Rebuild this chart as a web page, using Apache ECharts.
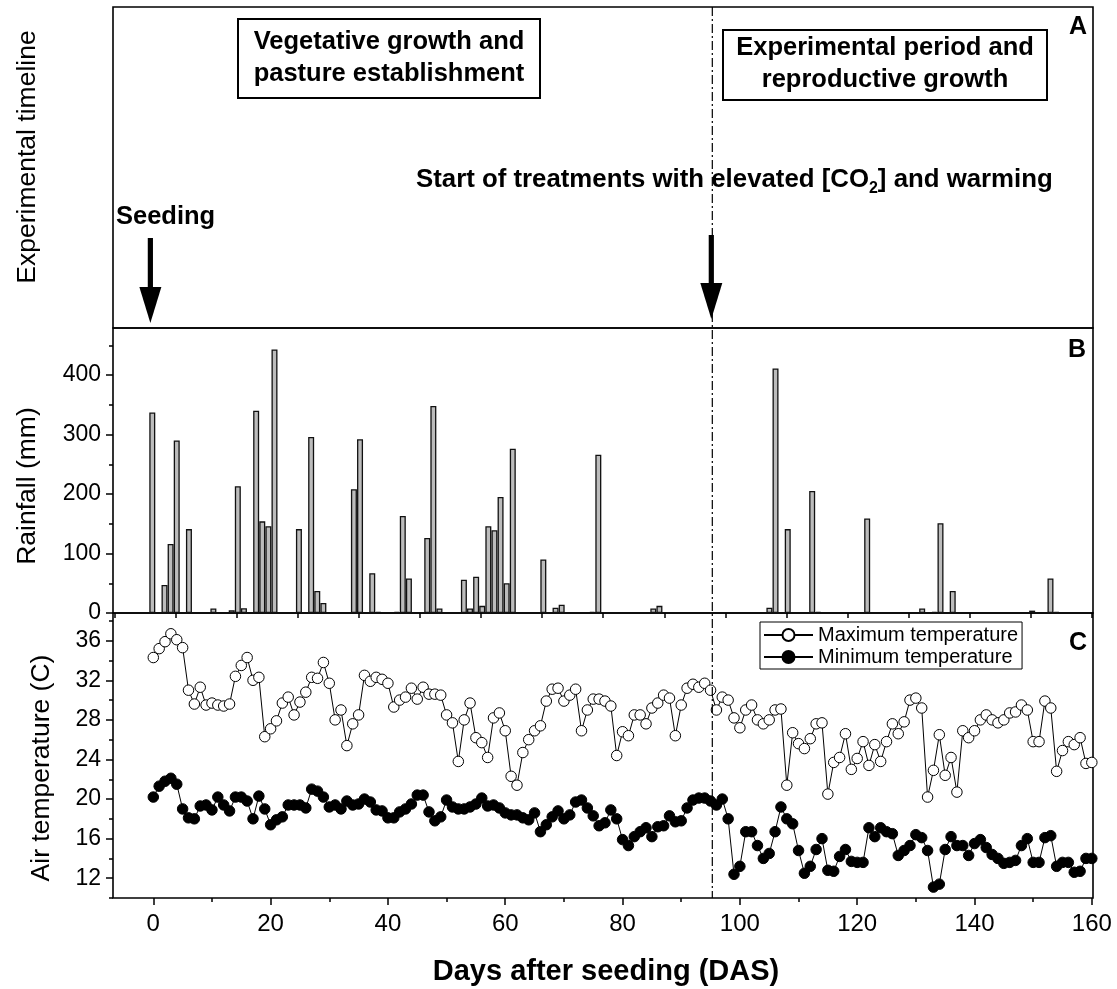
<!DOCTYPE html>
<html><head><meta charset="utf-8">
<script src="https://cdn.jsdelivr.net/npm/echarts@6/dist/echarts.min.js"></script>
<style>html,body{margin:0;padding:0;background:#fff}#c{width:1117px;height:989px}</style>
</head><body><div id="c"></div>
<script>
// ---------------- DATA ----------------
const days = [0,1,2,3,4,5,6,7,8,9,10,11,12,13,14,15,16,17,18,19,20,21,22,23,24,25,26,27,28,29,30,31,32,33,34,35,36,37,38,39,40,41,42,43,44,45,46,47,48,49,50,51,52,53,54,55,56,57,58,59,60,61,62,63,64,65,66,67,68,69,70,71,72,73,74,75,76,77,78,79,80,81,82,83,84,85,86,87,88,89,90,91,92,93,94,95,96,97,98,99,100,101,102,103,104,105,106,107,108,109,110,111,112,113,114,115,116,117,118,119,120,121,122,123,124,125,126,127,128,129,130,131,132,133,134,135,136,137,138,139,140,141,142,143,144,145,146,147,148,149,150,151,152,153,154,155,156,157,158,159,160];
const maxTemp = [34.3,35.2,35.9,36.7,36.1,35.3,31.0,29.6,31.3,29.5, 29.7,29.5,29.4,29.6,32.4,33.5,34.3,32.0,32.3,26.3, 27.1,27.9,29.7,30.3,28.5,29.8,30.8,32.3,32.2,33.8, 31.7,28.0,29.0,25.4,27.6,28.5,32.5,31.9,32.3,32.1, 31.7,29.3,30.0,30.3,31.2,30.1,31.3,30.6,30.6,30.5, 28.5,27.7,23.8,28.0,29.7,26.2,25.7,24.2,28.2,28.7, 26.9,22.3,21.4,24.7,26.0,26.9,27.4,29.9,31.1,31.2, 29.9,30.5,31.1,26.9,29.0,30.1,30.1,29.9,29.4,24.4, 26.8,26.4,28.5,28.5,27.6,29.2,29.7,30.5,30.2,26.4, 29.5,31.2,31.6,31.3,31.7,31.0,29.0,30.3,30.0,28.2, 27.2,29.0,29.5,28.0,27.6,28.0,29.0,29.1,21.4,26.7, 25.6,25.1,26.1,27.6,27.7,20.5,23.7,24.2,26.6,23.0, 24.1,25.8,23.4,25.5,23.8,25.8,27.6,26.6,27.8,30.0, 30.2,29.2,20.2,22.9,26.5,22.4,24.2,20.7,26.9,26.2, 26.9,28.0,28.5,28.0,27.7,28.0,28.7,28.8,29.5,29.0, 25.8,25.8,29.9,29.2,22.8,24.9,25.8,25.5,26.2,23.6, 23.7];
const minTemp = [20.2,21.3,21.8,22.1,21.5,19.0,18.1,18.0,19.3,19.4, 18.9,20.2,19.4,18.8,20.2,20.2,19.8,18.0,20.3,19.0, 17.4,17.9,18.2,19.4,19.4,19.4,19.1,21.0,20.8,20.2, 19.2,19.4,19.0,19.8,19.4,19.5,20.0,19.7,18.9,18.8, 18.1,18.1,18.7,19.0,19.5,20.4,20.4,18.7,17.8,18.2, 19.9,19.2,19.0,19.0,19.2,19.5,20.1,19.3,19.4,19.1, 18.6,18.4,18.4,18.1,17.9,18.6,16.7,17.4,18.2,18.8, 18.0,18.4,19.7,19.9,19.1,18.3,17.3,17.6,18.9,18.0, 15.9,15.3,16.2,16.7,17.1,16.2,17.2,17.3,18.3,17.7, 17.8,19.1,19.9,20.1,20.1,19.8,19.4,20.0,18.0,12.4, 13.2,16.7,16.7,15.3,14.0,14.5,16.7,19.2,18.0,17.5, 14.8,12.5,13.2,14.9,16.0,12.8,12.7,14.2,14.9,13.7, 13.6,13.6,17.1,16.2,17.1,16.7,16.5,14.3,14.8,15.3, 16.4,16.1,14.8,11.1,11.4,14.9,16.2,15.3,15.3,14.3, 15.5,15.9,15.1,14.4,14.0,13.5,13.6,13.8,15.3,16.0, 13.6,13.6,16.1,16.3,13.2,13.6,13.6,12.6,12.7,14.0, 14.0];
const rainDays = [0,2,3,4,6,10,13,14,15,17,18,19,20,24,26,27,28,33,34,36,37,40,41,42,45,46,47,51,52,53,54,55,56,57,58,59,64,66,67,72,73,82,83,101,102,104,108,109,117,126,128,129,131,144,147,148];
const rainMm = [337,47,116,290,141,7.5,4.7,213,8,340,154,146,443,141,296,37,17,208,292,67,2,2,163,58,126,348,7.5,56,7.5,61,12,146,139,195,50,276,90,9,14,2,266,7.5,12,9,411,141,205,2,159,7.5,2,151,37,4,58,2];
const xTickLabels = [0,20,40,60,80,100,120,140,160];
const xMinorTicks = [10,30,50,70,90,110,130,150];
const rainTickLabels = [0,100,200,300,400];
const rainMinorTicks = [50,150,250,350,450];
const tempTickLabels = [12,16,20,24,28,32,36];
const tempMinorTicks = [10,14,18,22,26,30,34,38];
const rainPanelTicks = [-6.2,3.8,13.8,23.8,33.8,43.8,53.8,63.8,73.8,83.8,93.8,103.8,113.8,123.8,133.8,143.8,153.8];
const SEEDING_DAS = -0.5;
const TREATMENT_DAS = 95.3;
const seriesNames = ['Maximum temperature','Minimum temperature'];

// ---------------- CHART ----------------
const FONT = '"Liberation Sans", Arial, Helvetica, sans-serif';
const chart = echarts.init(document.getElementById('c'), null, {renderer:'canvas'});
const C_MIN = -6.87, C_MAX = 160.2;
const B_MIN = -6.43, B_MAX = 153.96;
const tickLine = {color:'#000', width:1.5};
const gridBase = {left:113, right:24, show:true, borderColor:'#000', borderWidth:1.6, backgroundColor:'rgba(0,0,0,0)', containLabel:false, outerBoundsMode:'none'};
const noSplit = {show:false};
const noLine = {show:false, onZero:false};

const option = {
  animation:false,
  backgroundColor:'#fff',
  textStyle:{fontFamily:FONT},
  grid:[
    Object.assign({top:7, height:321}, gridBase),
    Object.assign({top:328, height:285}, gridBase),
    Object.assign({top:613, height:285}, gridBase)
  ],
  legend:{
    data:seriesNames, orient:'vertical', left:760, top:622,
    borderColor:'#000', borderWidth:1, padding:[3,4,2,3],
    itemWidth:49, itemHeight:15, itemGap:2,
    textStyle:{fontSize:20, color:'#000', fontFamily:FONT},
    selectedMode:false
  },
  xAxis:[
    {gridIndex:0, type:'value', min:C_MIN, max:C_MAX, show:false, axisLine:noLine},
    {gridIndex:1, type:'value', position:'bottom', min:B_MIN, max:B_MAX, axisLine:noLine, splitLine:noSplit,
      axisLabel:{show:false}, axisTick:{show:true, length:5, customValues:rainPanelTicks, lineStyle:tickLine}},
    {gridIndex:2, type:'value', position:'bottom', min:C_MIN, max:C_MAX, axisLine:noLine, splitLine:noSplit,
      axisLabel:{customValues:xTickLabels, fontSize:24, color:'#000', margin:14, fontFamily:FONT},
      axisTick:{show:true, customValues:xTickLabels, length:7, lineStyle:tickLine}},
    {gridIndex:2, type:'value', position:'bottom', min:C_MIN, max:C_MAX, axisLine:noLine, splitLine:noSplit,
      axisLabel:{show:false}, axisTick:{show:true, customValues:xMinorTicks, length:4, lineStyle:tickLine}}
  ],
  yAxis:[
    {gridIndex:0, type:'value', min:0, max:1, show:false, axisLine:noLine},
    {gridIndex:1, type:'value', position:'left', min:0, max:479, axisLine:noLine, splitLine:noSplit,
      axisLabel:{customValues:rainTickLabels, fontSize:23, color:'#000', margin:12, fontFamily:FONT},
      axisTick:{show:true, customValues:rainTickLabels, length:7, lineStyle:tickLine}},
    {gridIndex:1, type:'value', position:'left', min:0, max:479, axisLine:noLine, splitLine:noSplit,
      axisLabel:{show:false}, axisTick:{show:true, customValues:rainMinorTicks, length:4, lineStyle:tickLine}},
    {gridIndex:2, type:'value', position:'left', min:10, max:38.8, axisLine:noLine, splitLine:noSplit,
      axisLabel:{customValues:tempTickLabels, fontSize:23, color:'#000', margin:12, fontFamily:FONT},
      axisTick:{show:true, customValues:tempTickLabels, length:7, lineStyle:tickLine}},
    {gridIndex:2, type:'value', position:'left', min:10, max:38.8, axisLine:noLine, splitLine:noSplit,
      axisLabel:{show:false}, axisTick:{show:true, customValues:tempMinorTicks, length:4, lineStyle:tickLine}}
  ],
  series:[
    {type:'bar', name:'Rainfall', xAxisIndex:1, yAxisIndex:1, barWidth:6,
      data:rainDays.map((d,i)=>[d, rainMm[i]]),
      itemStyle:{color:'#bcbcbc', borderColor:'#111', borderWidth:1.3}, silent:true},
    {type:'line', name:seriesNames[0], xAxisIndex:2, yAxisIndex:3,
      data:days.map((d,i)=>[d, maxTemp[i]]),
      symbol:'circle', symbolSize:10.5, showAllSymbol:true,
      lineStyle:{color:'#000', width:1}, itemStyle:{color:'#fff', borderColor:'#000', borderWidth:1}, silent:true},
    {type:'line', name:seriesNames[1], xAxisIndex:2, yAxisIndex:3,
      data:days.map((d,i)=>[d, minTemp[i]]),
      symbol:'circle', symbolSize:10.5, showAllSymbol:true,
      lineStyle:{color:'#000', width:1}, itemStyle:{color:'#000', borderColor:'#000', borderWidth:1}, silent:true}
  ]
};
chart.setOption(option);

// ---------------- ANNOTATIONS ----------------
const xC = v => chart.convertToPixel({xAxisIndex:2}, v);
const lineX = xC(TREATMENT_DAS);
const seedX = xC(SEEDING_DAS);
function arrow(x, yTop, yHead, yTip){
  return [
    {type:'rect', shape:{x:x-2.6, y:yTop, width:5.2, height:yHead-yTop+2}, style:{fill:'#000'}, z:20},
    {type:'polygon', shape:{points:[[x-11,yHead],[x+11,yHead],[x,yTip]]}, style:{fill:'#000'}, z:20}
  ];
}
const bold25 = {fontSize:25.5, fontWeight:'bold', fontFamily:FONT, fill:'#000'};
function txt(x, y, s, st, extra){
  return Object.assign({type:'text', x:x, y:y, z:30, style:Object.assign({text:s, align:'center', verticalAlign:'middle'}, st)}, extra||{});
}
const regTitle = {fontSize:26.5, fontFamily:FONT, fill:'#000'};
const letter = {fontSize:25, fontWeight:'bold', fontFamily:FONT, fill:'#000'};
const graphics = [
  {type:'line', shape:{x1:lineX, y1:7, x2:lineX, y2:898}, style:{stroke:'#000', lineWidth:1.2, lineDash:[9,3,2,3]}, z:15},
  ...arrow(seedX, 238, 287, 323),
  ...arrow(lineX-1, 235, 283, 319),
  {type:'rect', shape:{x:238, y:19, width:302, height:79}, style:{fill:'#fff', stroke:'#000', lineWidth:2}, z:18},
  txt(389, 42, 'Vegetative growth and', bold25),
  txt(389, 74, 'pasture establishment', bold25),
  {type:'rect', shape:{x:723, y:30, width:324, height:70}, style:{fill:'#fff', stroke:'#000', lineWidth:2}, z:18},
  txt(885, 48, 'Experimental period and', bold25),
  txt(885, 80, 'reproductive growth', bold25),
  txt(116, 217, 'Seeding', Object.assign({}, bold25, {align:'left'})),
  {type:'text', x:416, y:180, z:30, style:{
    text:'{n|Start of treatments with elevated [CO}{s|2}{n|] and warming}',
    align:'left', verticalAlign:'middle',
    rich:{n:{fontSize:25.8, fontWeight:'bold', fontFamily:FONT, fill:'#000', color:'#000'},
          s:{fontSize:16, fontWeight:'bold', fontFamily:FONT, fill:'#000', color:'#000', verticalAlign:'bottom', lineHeight:34}}}},
  txt(1078, 27, 'A', letter),
  txt(1077, 350, 'B', letter),
  txt(1078, 643, 'C', letter),
  txt(28, 157, 'Experimental timeline', regTitle, {rotation:Math.PI/2}),
  txt(28, 486, 'Rainfall (mm)', regTitle, {rotation:Math.PI/2}),
  txt(42, 768, 'Air temperature (C)', regTitle, {rotation:Math.PI/2}),
  txt(606, 972, 'Days after seeding (DAS)', {fontSize:29, fontWeight:'bold', fontFamily:FONT, fill:'#000'})
];
chart.setOption({graphic:graphics});
</script></body></html>
